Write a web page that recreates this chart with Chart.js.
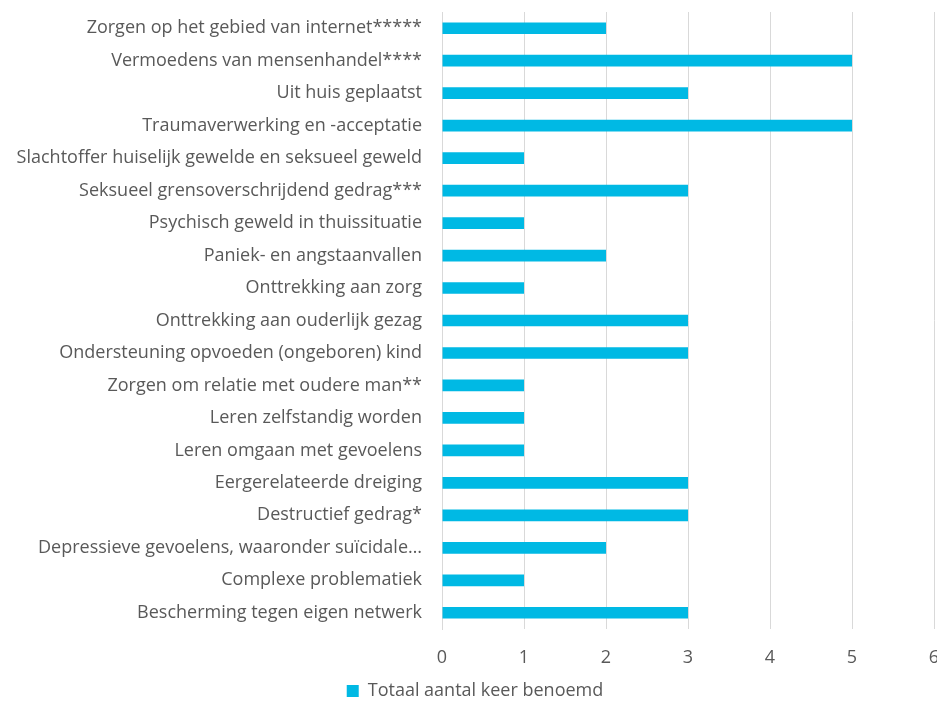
<!DOCTYPE html>
<html>
<head>
<meta charset="utf-8">
<script src="https://cdn.jsdelivr.net/npm/chart.js@4"></script>
<style>
html,body{margin:0;padding:0;background:#fff;overflow:hidden;}
#wrap{width:940px;height:702px;position:relative;}
</style>
</head>
<body>
<div id="wrap"><canvas id="c"></canvas></div>
<script>
const categories = [
  "Zorgen op het gebied van internet*****",
  "Vermoedens van mensenhandel****",
  "Uit huis geplaatst",
  "Traumaverwerking en -acceptatie",
  "Slachtoffer huiselijk gewelde en seksueel geweld",
  "Seksueel grensoverschrijdend gedrag***",
  "Psychisch geweld in thuissituatie",
  "Paniek- en angstaanvallen",
  "Onttrekking aan zorg",
  "Onttrekking aan ouderlijk gezag",
  "Ondersteuning opvoeden (ongeboren) kind",
  "Zorgen om relatie met oudere man**",
  "Leren zelfstandig worden",
  "Leren omgaan met gevoelens",
  "Eergerelateerde dreiging",
  "Destructief gedrag*",
  "Depressieve gevoelens, waaronder suïcidale…",
  "Complexe problematiek",
  "Bescherming tegen eigen netwerk"
];
const seriesName = "Totaal aantal keer benoemd";
const values = [2,5,3,5,1,3,1,2,1,3,3,1,1,1,3,3,2,1,3];
const xMin = 0, xMax = 6, xStep = 1;

const FONT = "'Open Sans', sans-serif";
const TXT = "#595959";
const CLEAR = 'rgba(0,0,0,0)';

const legendShift = {
  id: 'legendShift',
  afterLayout(chart) {
    const l = chart.legend;
    if (!l) return;
    l.top += 8; l.bottom += 8; l.left += 8; l.right += 8;
  }
};

new Chart(document.getElementById('c'), {
  type: 'bar',
  data: {
    labels: categories,
    datasets: [{
      label: seriesName,
      data: values,
      backgroundColor: '#00B9E4',
      borderWidth: 0,
      barPercentage: 0.36,
      categoryPercentage: 1
    }]
  },
  plugins: [legendShift],
  options: {
    indexAxis: 'y',
    responsive: true,
    maintainAspectRatio: false,
    animation: false,
    layout: { padding: { top: 12, right: 6, left: 0, bottom: 0 } },
    plugins: {
      legend: {
        position: 'bottom',
        labels: {
          color: TXT,
          font: { family: FONT, size: 18 },
          boxWidth: 12, boxHeight: 12,
          padding: 0
        }
      },
      tooltip: { enabled: false }
    },
    scales: {
      x: {
        min: xMin, max: xMax,
        ticks: { stepSize: xStep, color: TXT, font: { family: FONT, size: 18 }, padding: 0 },
        grid: { color: '#d9d9d9', drawTicks: true, tickLength: 18, tickColor: CLEAR },
        border: { display: false },
        afterFit: (s) => { s.height = 45; }
      },
      y: {
        ticks: { color: TXT, font: { family: FONT, size: 18 }, padding: 0, autoSkip: false },
        grid: { display: true, drawOnChartArea: false, drawTicks: true, tickLength: 20, tickColor: CLEAR },
        border: { display: true, color: '#d9d9d9' },
        afterFit: (s) => { s.width = 442; }
      }
    }
  }
});
</script>
</body>
</html>
